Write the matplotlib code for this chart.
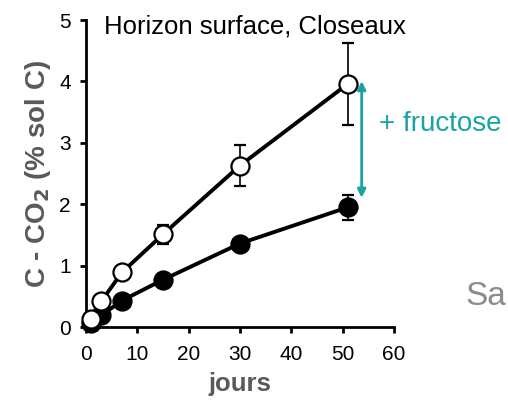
import matplotlib
matplotlib.use("Agg")
import matplotlib.pyplot as plt

plt.rcParams["font.family"] = ["Liberation Sans", "DejaVu Sans"]

days = [1, 3, 7, 15, 30, 51]
fructose = [0.13, 0.42, 0.89, 1.51, 2.63, 3.96]
fructose_err = [0.02, 0.03, 0.05, 0.15, 0.34, 0.67]
control = [0.07, 0.19, 0.43, 0.77, 1.36, 1.95]
control_err = [0.02, 0.03, 0.04, 0.05, 0.07, 0.2]

teal = "#19a3a3"
grey = "#595959"

fig = plt.figure(figsize=(5.08, 4.01), dpi=100)
ax = fig.add_axes([0.1693, 0.1845, 0.6063, 0.7656])

ax.errorbar(days, control, yerr=control_err, color="black", lw=2.8, marker="o",
            ms=13, mfc="black", mec="black", mew=1.6, ecolor="black", elinewidth=1.2,
            capsize=4, capthick=1.2, clip_on=False, zorder=3)
ax.errorbar(days, fructose, yerr=fructose_err, color="black", lw=2.8, marker="o",
            ms=13, mfc="white", mec="black", mew=1.6, ecolor="black", elinewidth=1.2,
            capsize=4, capthick=1.2, clip_on=False, zorder=4)

ax.set_xlim(0, 60)
ax.set_ylim(0, 5)
ax.set_xticks(range(0, 61, 10))
ax.set_yticks(range(0, 6))
for s in ["top", "right"]:
    ax.spines[s].set_visible(False)
for s in ["left", "bottom"]:
    ax.spines[s].set_linewidth(2.0)
ax.tick_params(direction="out", length=4, width=2.0, labelsize=15)
ax.tick_params(axis="x", pad=9)
ax.tick_params(axis="y", pad=7)

ax.set_xlabel("jours", fontsize=18.5, fontweight="bold", color=grey, labelpad=6)
ax.set_ylabel("C - CO$_\\mathbf{2}$ (% sol C)", fontsize=20, fontweight="bold", color=grey, labelpad=4)
ax.set_title("Horizon surface, Closeaux", fontsize=18.5, loc="left", x=0.06, y=0.93)

ax.annotate("", xy=(53.7, 4.05), xytext=(53.7, 2.06),
            arrowprops=dict(arrowstyle="<|-|>", color=teal, lw=2, mutation_scale=12),
            annotation_clip=False)
ax.text(57, 3.3, "+ fructose", color=teal, fontsize=20, va="center", ha="left", clip_on=False)

fig.text(0.917, 0.26, "Sa", color="#8c8c8c", fontsize=24, va="center", ha="left")

fig.savefig("out.png", dpi=100)
